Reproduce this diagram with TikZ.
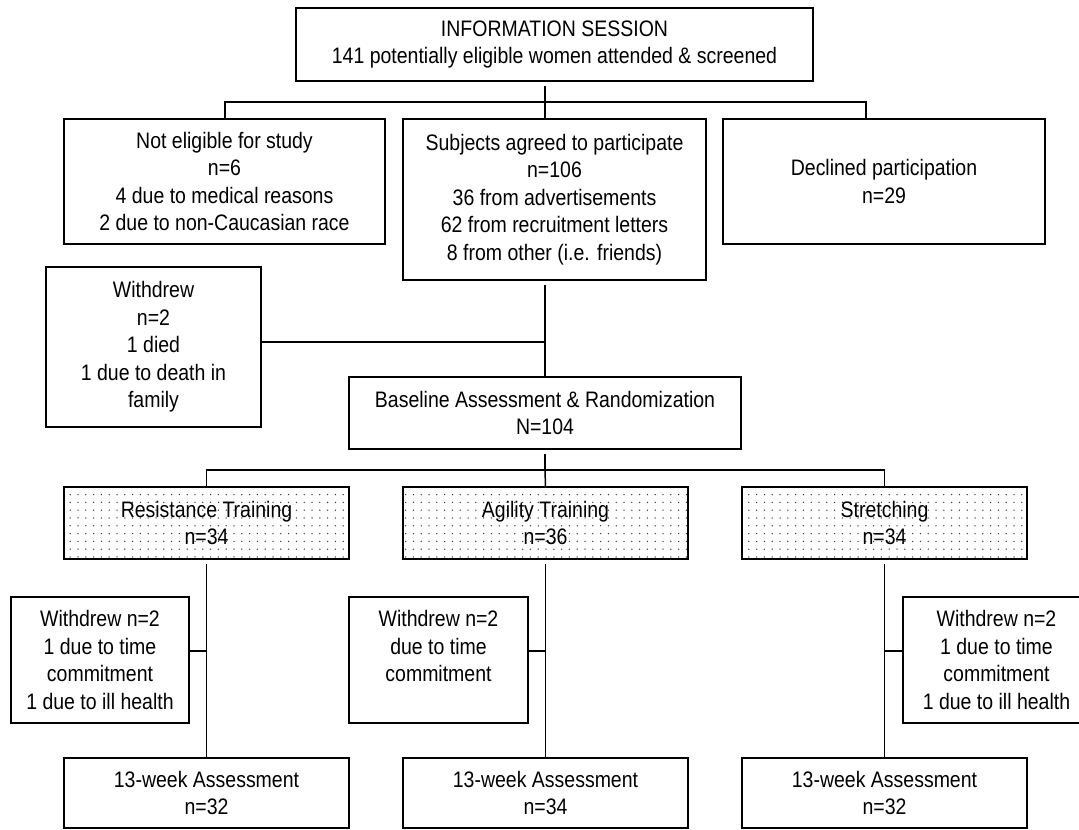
\documentclass[tikz,border=0pt]{standalone}
\usepackage{fontspec}
\setmainfont{Liberation Sans}[FakeStretch=0.87]
\usepackage{tikz}
\usetikzlibrary{calc,patterns.meta}
\tikzset{
  box/.style={draw=black, line width=1.5pt, align=center, fill=white,
    inner sep=0pt},
  armbox/.style={box, fill=none, pattern={Dots[distance=7.8pt, radius=0.75pt]},
    pattern color=black!75},
  link/.style={draw=black, line width=1.5pt},
  downlink/.style={link, shorten <=4pt}
}

\begin{document}
\begin{tikzpicture}[x=1pt, y=-1pt, font=\fontsize{22.4}{27.5}\selectfont]
  \useasboundingbox (0,0) rectangle (1079,830);
  \def\yBusA{102}
  \def\yBusB{470}

  % screening
  \node[box, minimum width=517pt, minimum height=73pt] (info) at (554.5,44.5)
    {INFORMATION SESSION\\141 potentially eligible women attended \& screened};
  \node[box, minimum width=321pt, minimum height=125pt] (noel) at (224.5,181.5)
    {Not eligible for study\\n=6\\4 due to medical reasons\\2 due to non-Caucasian race};
  \node[box, minimum width=303pt, minimum height=161pt] (agree) at (554.5,199.5)
    {Subjects agreed to participate\\n=106\\36 from advertisements\\62 from recruitment letters\\8 from other (i.e. friends)};
  \node[box, minimum width=322pt, minimum height=125pt] (decl) at (884,181.5)
    {Declined participation\\n=29};
  \node[box, minimum width=215pt, minimum height=160pt] (wd0) at (153.5,347)
    {Withdrew\\n=2\\1 died\\1 due to death in\\family};
  \node[box, minimum width=392pt, minimum height=72pt] (base) at (545,413)
    {Baseline Assessment \& Randomization\\N=104};

  % groups
  \node[armbox, minimum width=285pt, minimum height=72pt] (rt) at (206.5,523)
    {Resistance Training\\n=34};
  \node[armbox, minimum width=285pt, minimum height=72pt] (ag) at (545.5,523)
    {Agility Training\\n=36};
  \node[armbox, minimum width=285pt, minimum height=72pt] (st) at (884.5,523)
    {Stretching\\n=34};

  \node[box, minimum width=178pt, minimum height=126pt] (wd1) at (100,660)
    {Withdrew n=2\\1 due to time\\commitment\\1 due to ill health};
  \node[box, minimum width=179pt, minimum height=126pt] (wd2) at (438.5,660)
    {Withdrew n=2\\due to time\\commitment\\\phantom{x}};
  \node[box, minimum width=187pt, minimum height=126pt] (wd3) at (996.5,660)
    {Withdrew n=2\\1 due to time\\commitment\\1 due to ill health};

  \node[box, minimum width=285pt, minimum height=70pt] (wk1) at (206.5,793)
    {13-week Assessment\\n=32};
  \node[box, minimum width=285pt, minimum height=70pt] (wk2) at (545.5,793)
    {13-week Assessment\\n=34};
  \node[box, minimum width=285pt, minimum height=70pt] (wk3) at (884.5,793)
    {13-week Assessment\\n=32};

  \coordinate (busA) at (545,\yBusA);
  \coordinate (busAl) at (225,\yBusA);
  \coordinate (busAr) at (866,\yBusA);
  \coordinate (spine) at (545,342);
  \coordinate (busB) at (545,\yBusB);
  \coordinate (side) at (0,651);

  \draw[downlink] (info.south -| busA) -- (busA);
  \draw[link] (noel.north -| busAl) -- (busAl) -- (busAr) -- (decl.north -| busAr);
  \draw[link] (busA) -- (agree.north -| busA);
  \draw[downlink] (agree.south -| spine) -- (base.north -| spine);
  \draw[link] (wd0.east |- spine) -- (spine);

  \draw[downlink] (base.south -| busB) -- (busB);
  \draw[link] (rt.north) -- (rt.north |- busB) -- (st.north |- busB) -- (st.north);
  \draw[link] (busB) -- (ag.north);

  \foreach \g/\k in {rt/wk1, ag/wk2, st/wk3}{
    \draw[downlink] (\g.south) -- (\k.north);
  }
  \draw[link] (wd1.east |- side) -- (rt.south |- side);
  \draw[link] (wd2.east |- side) -- (ag.south |- side);
  \draw[link] (wd3.west |- side) -- (st.south |- side);
\end{tikzpicture}
\end{document}
